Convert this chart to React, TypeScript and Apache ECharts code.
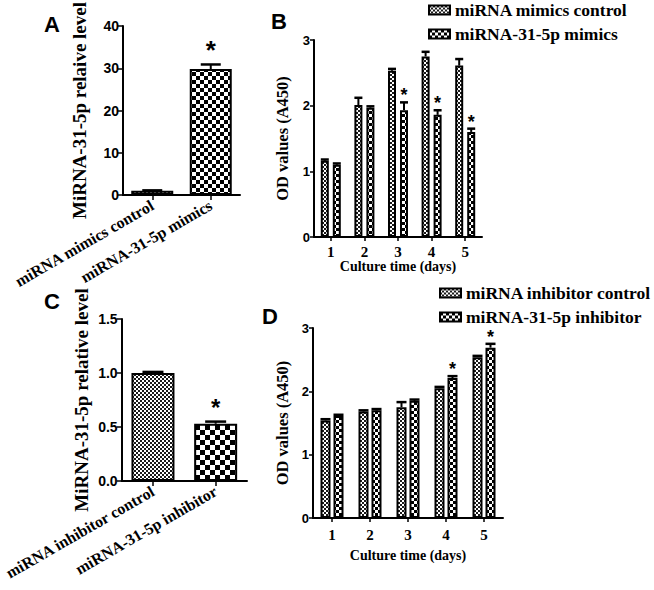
import React, { useEffect, useRef } from 'react';
import * as echarts from 'echarts';

// ---- Panel A ----
const aCategories = ['miRNA mimics control', 'miRNA-31-5p mimics'];
const aValues = [1.0, 29.8];
const aErrTop = [1.1, 30.9];
const aSig = [0, 1];
const aTicks = [0, 10, 20, 30, 40];

// ---- Panel B ----
const days = ['1', '2', '3', '4', '5'];
const bControl = [1.16, 2.01, 2.53, 2.75, 2.61];
const bControlErr = [1.18, 2.12, 2.56, 2.82, 2.71];
const bMimics = [1.1, 1.97, 1.93, 1.86, 1.6];
const bMimicsErr = [1.12, 1.99, 2.05, 1.93, 1.65];
const bSig = [0, 0, 1, 1, 1];

// ---- Panel C ----
const cCategories = ['miRNA inhibitor control', 'miRNA-31-5p inhibitor'];
const cValues = [1.0, 0.53];
const cErrTop = [1.01, 0.55];
const cSig = [0, 1];

// ---- Panel D ----
const dControl = [1.54, 1.68, 1.75, 2.05, 2.54];
const dControlErr = [1.56, 1.7, 1.83, 2.07, 2.56];
const dInhib = [1.61, 1.7, 1.85, 2.21, 2.69];
const dInhibErr = [1.63, 1.72, 1.87, 2.24, 2.75];
const dSig = [0, 0, 0, 1, 1];

const legendB = ['miRNA mimics control', 'miRNA-31-5p mimics'];
const legendD = ['miRNA inhibitor control', 'miRNA-31-5p inhibitor'];

const SERIF = 'Liberation Serif';
const SANS = 'Liberation Sans';

function checker(cell: number, dark: string, light: string) {
  const c = document.createElement('canvas');
  c.width = cell * 2;
  c.height = cell * 2;
  const ctx = c.getContext('2d')!;
  ctx.fillStyle = light;
  ctx.fillRect(0, 0, cell * 2, cell * 2);
  ctx.fillStyle = dark;
  ctx.fillRect(0, 0, cell, cell);
  ctx.fillRect(cell, cell, cell, cell);
  return { image: c, repeat: 'repeat', imageWidth: cell * 2, imageHeight: cell * 2 } as any;
}

function errRender(offset: number, capW: number, starSize: number, starGap: number) {
  return (params: any, api: any) => {
    const idx = api.value(0);
    const v = api.value(1);
    const t = api.value(2);
    const sig = api.value(3);
    const pv = api.coord([idx, v]);
    const pt = api.coord([idx, t]);
    const cx = pv[0] + offset;
    const children: any[] = [
      { type: 'line', shape: { x1: cx, y1: pv[1], x2: cx, y2: pt[1] }, style: { stroke: '#000', lineWidth: 2 } },
      { type: 'line', shape: { x1: cx - capW / 2, y1: pt[1], x2: cx + capW / 2, y2: pt[1] }, style: { stroke: '#000', lineWidth: 2.5 } },
    ];
    if (sig) {
      children.push({
        type: 'text',
        x: cx,
        y: pt[1] - starGap,
        style: { text: '*', fontSize: starSize, fontWeight: 'bold', fontFamily: SANS, fill: '#000', align: 'center', verticalAlign: 'middle' },
      });
    }
    return { type: 'group', children };
  };
}

function errData(vals: number[], tops: number[], sig: number[]) {
  return vals.map((v, i) => [i, v, tops[i], sig[i]]);
}

export default function App() {
  const ref = useRef<HTMLDivElement>(null);
  useEffect(() => {
    if (!ref.current) return;
    const chart = echarts.init(ref.current, undefined, { renderer: 'svg' });

    const fineA = checker(2, '#1a1a1a', '#ffffff');
    const coarseA = checker(4, '#000', '#fff');
    const coarseC = checker(5, '#000', '#fff');
    const coarseBD = checker(3, '#000', '#fff');

    const axisLine = { show: true, lineStyle: { color: '#000', width: 2 } };
    const axisTick = { show: true, length: 5, lineStyle: { color: '#000', width: 1.5 } };
    const yLabel = (size: number) => ({ color: '#000', fontFamily: SANS, fontWeight: 'bold', fontSize: size, margin: 4 });

    const grids = [
      { left: 123, top: 23, width: 117, height: 172 },
      { left: 314, top: 40, width: 168, height: 197 },
      { left: 120, top: 319, width: 127, height: 162 },
      { left: 313, top: 328, width: 190, height: 190 },
    ];

    const xAxes: any[] = [
      {
        gridIndex: 0, type: 'category', data: aCategories, axisLine, axisTick: { ...axisTick, alignWithLabel: true },
        axisLabel: { rotate: 30, interval: 0, margin: 9, color: '#000', fontFamily: SERIF, fontWeight: 'bold', fontSize: 16 },
      },
      {
        gridIndex: 1, type: 'category', data: days, axisLine, axisTick: { ...axisTick, length: 4, alignWithLabel: true },
        axisLabel: { margin: 7, color: '#000', fontFamily: SERIF, fontWeight: 'bold', fontSize: 15 },
        name: 'Culture time (days)', nameLocation: 'middle', nameGap: 21,
        nameTextStyle: { color: '#000', fontFamily: SERIF, fontWeight: 'bold', fontSize: 14 },
      },
      {
        gridIndex: 2, type: 'category', data: cCategories, axisLine, axisTick: { ...axisTick, alignWithLabel: true },
        axisLabel: { rotate: 30, interval: 0, margin: 9, color: '#000', fontFamily: SERIF, fontWeight: 'bold', fontSize: 16 },
      },
      {
        gridIndex: 3, type: 'category', data: days, axisLine, axisTick: { ...axisTick, length: 4, alignWithLabel: true },
        axisLabel: { margin: 9, color: '#000', fontFamily: SERIF, fontWeight: 'bold', fontSize: 15 },
        name: 'Culture time (days)', nameLocation: 'middle', nameGap: 30,
        nameTextStyle: { color: '#000', fontFamily: SERIF, fontWeight: 'bold', fontSize: 14 },
      },
    ];

    const yAxes: any[] = [
      {
        gridIndex: 0, type: 'value', min: aTicks[0], max: aTicks[aTicks.length - 1], interval: 10,
        axisLine, axisTick, splitLine: { show: false }, axisLabel: yLabel(14),
        name: 'MiRNA-31-5p relaive level', nameLocation: 'middle', nameGap: 34,
        nameTextStyle: { color: '#000', fontFamily: SERIF, fontWeight: 'bold', fontSize: 19 },
      },
      {
        gridIndex: 1, type: 'value', min: 0, max: 3, interval: 1,
        axisLine, axisTick: { ...axisTick, length: 4 }, splitLine: { show: false }, axisLabel: yLabel(13),
        name: 'OD values (A450)', nameLocation: 'middle', nameGap: 23,
        nameTextStyle: { color: '#000', fontFamily: SERIF, fontWeight: 'bold', fontSize: 16.5 },
      },
      {
        gridIndex: 2, type: 'value', min: 0, max: 1.5, interval: 0.5,
        axisLine, axisTick, splitLine: { show: false },
        axisLabel: { ...yLabel(14), formatter: (v: number) => v.toFixed(1) },
        name: 'MiRNA-31-5p relative level', nameLocation: 'middle', nameGap: 31,
        nameTextStyle: { color: '#000', fontFamily: SERIF, fontWeight: 'bold', fontSize: 19 },
      },
      {
        gridIndex: 3, type: 'value', min: 0, max: 3, interval: 1,
        axisLine, axisTick: { ...axisTick, length: 4 }, splitLine: { show: false }, axisLabel: yLabel(13),
        name: 'OD values (A450)', nameLocation: 'middle', nameGap: 22,
        nameTextStyle: { color: '#000', fontFamily: SERIF, fontWeight: 'bold', fontSize: 16.5 },
      },
    ];

    const border = { borderColor: '#000', borderWidth: 2 };
    const bW = 8, bGap = 0.5;
    const dW = 10, dGap = 0.3;
    const bOff = (bW * (1 + bGap)) / 2;
    const dOff = (dW * (1 + dGap)) / 2;

    const series: any[] = [
      {
        name: 'panelA', type: 'bar', xAxisIndex: 0, yAxisIndex: 0, barWidth: 42,
        data: aValues.map((v, i) => ({ value: v, itemStyle: { color: i === 0 ? fineA : coarseA, ...border } })),
      },
      {
        name: 'panelAErr', type: 'custom', xAxisIndex: 0, yAxisIndex: 0, z: 5,
        renderItem: errRender(0, 20, 26, 14), encode: { x: 0, y: 1 },
        data: errData(aValues, aErrTop, aSig),
      },
      {
        name: legendB[0], type: 'bar', xAxisIndex: 1, yAxisIndex: 1, barWidth: bW, barGap: bGap * 100 + '%',
        itemStyle: { color: fineA, ...border }, data: bControl,
      },
      {
        name: legendB[1], type: 'bar', xAxisIndex: 1, yAxisIndex: 1, barWidth: bW, barGap: bGap * 100 + '%',
        itemStyle: { color: coarseBD, ...border }, data: bMimics,
      },
      {
        name: 'bErr0', type: 'custom', xAxisIndex: 1, yAxisIndex: 1, z: 5,
        renderItem: errRender(-bOff, 8, 18, 7), encode: { x: 0, y: 1 },
        data: errData(bControl, bControlErr, [0, 0, 0, 0, 0]),
      },
      {
        name: 'bErr1', type: 'custom', xAxisIndex: 1, yAxisIndex: 1, z: 5,
        renderItem: errRender(bOff, 8, 18, 7), encode: { x: 0, y: 1 },
        data: errData(bMimics, bMimicsErr, bSig),
      },
      {
        name: 'panelC', type: 'bar', xAxisIndex: 2, yAxisIndex: 2, barWidth: 43,
        data: cValues.map((v, i) => ({ value: v, itemStyle: { color: i === 0 ? fineA : coarseC, ...border } })),
      },
      {
        name: 'panelCErr', type: 'custom', xAxisIndex: 2, yAxisIndex: 2, z: 5,
        renderItem: errRender(0, 21, 24, 14), encode: { x: 0, y: 1 },
        data: errData(cValues, cErrTop, cSig),
      },
      {
        name: legendD[0], type: 'bar', xAxisIndex: 3, yAxisIndex: 3, barWidth: dW, barGap: dGap * 100 + '%',
        itemStyle: { color: fineA, ...border }, data: dControl,
      },
      {
        name: legendD[1], type: 'bar', xAxisIndex: 3, yAxisIndex: 3, barWidth: dW, barGap: dGap * 100 + '%',
        itemStyle: { color: coarseBD, ...border }, data: dInhib,
      },
      {
        name: 'dErr0', type: 'custom', xAxisIndex: 3, yAxisIndex: 3, z: 5,
        renderItem: errRender(-dOff, 10, 18, 7), encode: { x: 0, y: 1 },
        data: errData(dControl, dControlErr, [0, 0, 0, 0, 0]),
      },
      {
        name: 'dErr1', type: 'custom', xAxisIndex: 3, yAxisIndex: 3, z: 5,
        renderItem: errRender(dOff, 10, 18, 7), encode: { x: 0, y: 1 },
        data: errData(dInhib, dInhibErr, dSig),
      },
    ];

    const legendText = { color: '#000', fontFamily: SERIF, fontWeight: 'bold', fontSize: 17.5 };

    chart.setOption({
      animation: false,
      backgroundColor: '#fff',
      textStyle: { fontFamily: SERIF },
      grid: grids,
      xAxis: xAxes,
      yAxis: yAxes,
      series,
      legend: [
        {
          data: legendB, orient: 'vertical', left: 428, top: 1, padding: 0, itemWidth: 21, itemHeight: 9, itemGap: 6,
          icon: 'rect', selectedMode: false, textStyle: legendText,
        },
        {
          data: legendD, orient: 'vertical', left: 439, top: 284, padding: 0, itemWidth: 21, itemHeight: 9, itemGap: 6,
          icon: 'rect', selectedMode: false, textStyle: legendText,
        },
      ],
      graphic: [
        { type: 'text', x: 52, y: 24, style: { text: 'A', fontFamily: SANS, fontWeight: 'bold', fontSize: 22, fill: '#000', align: 'center', verticalAlign: 'middle' } },
        { type: 'text', x: 279, y: 21, style: { text: 'B', fontFamily: SANS, fontWeight: 'bold', fontSize: 22, fill: '#000', align: 'center', verticalAlign: 'middle' } },
        { type: 'text', x: 52, y: 301, style: { text: 'C', fontFamily: SANS, fontWeight: 'bold', fontSize: 22, fill: '#000', align: 'center', verticalAlign: 'middle' } },
        { type: 'text', x: 270, y: 316, style: { text: 'D', fontFamily: SANS, fontWeight: 'bold', fontSize: 22, fill: '#000', align: 'center', verticalAlign: 'middle' } },
      ],
    });

    return () => chart.dispose();
  }, []);

  return <div ref={ref} style={{ position: 'absolute', left: 0, top: 0, width: 654, height: 590 }} />;
}
